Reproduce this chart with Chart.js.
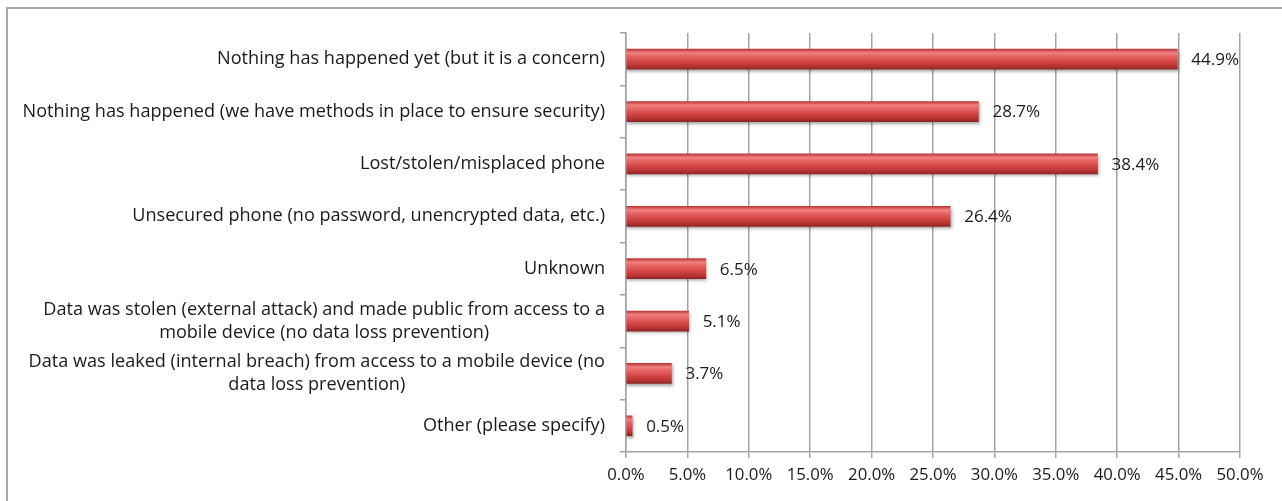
<!DOCTYPE html>
<html>
<head>
<meta charset="utf-8">
<script src="https://cdn.jsdelivr.net/npm/chart.js@4/dist/chart.umd.min.js"></script>
<style>
  html, body { margin: 0; padding: 0; background: #fff; }
  #wrap { position: relative; width: 1282px; height: 501px; }
  #frame {
    position: absolute; left: 6px; top: 7px; right: 0; bottom: 0;
    border-top: 2px solid #a9a9a9; border-left: 2px solid #a9a9a9;
    pointer-events: none;
  }
</style>
</head>
<body>
<div id="wrap">
  <canvas id="chart" width="1282" height="501"></canvas>
  <div id="frame"></div>
</div>
<script>
// ==============================
// DATA
// ==============================
const categories = [
  ["Nothing has happened yet (but it is a concern)"],
  ["Nothing has happened (we have methods in place to ensure security)"],
  ["Lost/stolen/misplaced phone"],
  ["Unsecured phone (no password, unencrypted data, etc.)"],
  ["Unknown"],
  ["Data was stolen (external attack) and made public from access to a", "mobile device (no data loss prevention)"],
  ["Data was leaked (internal breach) from access to a mobile device (no", "data loss prevention)"],
  ["Other (please specify)"]
];
const values = [44.9, 28.7, 38.4, 26.4, 6.5, 5.1, 3.7, 0.5];
const xTicksMax = 50;
const xTicksStep = 5;

const FONT = "'Open Sans'";
const GRID = "#a3a3a3";
const TEXT = "#1a1a1a";

// cylinder-like gradient across each bar + soft shadow
const barLook = {
  id: "barLook",
  beforeDatasetsDraw(chart) {
    const ctx = chart.ctx;
    chart.getDatasetMeta(0).data.forEach(bar => {
      const h = bar.height / 2;
      const g = ctx.createLinearGradient(0, bar.y - h, 0, bar.y + h);
      g.addColorStop(0, "#bd3838");
      g.addColorStop(0.18, "#f08080");
      g.addColorStop(0.35, "#e66464");
      g.addColorStop(0.6, "#d64747");
      g.addColorStop(0.85, "#b93333");
      g.addColorStop(1, "#8e2626");
      bar.options.backgroundColor = g;
    });
    ctx.save();
    ctx.shadowColor = "rgba(0,0,0,0.35)";
    ctx.shadowBlur = 3;
    ctx.shadowOffsetX = 1;
    ctx.shadowOffsetY = 2;
  },
  afterDatasetsDraw(chart) {
    chart.ctx.restore();
  }
};

// value labels at the bar ends
const valueLabels = {
  id: "valueLabels",
  afterDatasetsDraw(chart) {
    const ctx = chart.ctx;
    const meta = chart.getDatasetMeta(0);
    ctx.save();
    ctx.font = "17px " + FONT;
    ctx.fillStyle = TEXT;
    ctx.textAlign = "left";
    ctx.textBaseline = "middle";
    meta.data.forEach((bar, i) => {
      ctx.fillText(values[i].toFixed(1) + "%", bar.x + 14, bar.y + 1);
    });
    ctx.restore();
  }
};

// category labels: block right-aligned, wrapped lines centred in the block
const catLabels = {
  id: "catLabels",
  afterDraw(chart) {
    const ctx = chart.ctx;
    const y = chart.scales.y;
    const right = y.right - 21;
    const lh = 23;
    ctx.save();
    ctx.font = "18.1px " + FONT;
    ctx.fillStyle = TEXT;
    ctx.textBaseline = "middle";
    ctx.textAlign = "center";
    categories.forEach((lines, i) => {
      const c = y.getPixelForValue(i);
      const w = Math.max(...lines.map(l => ctx.measureText(l).width));
      const cx = right - w / 2;
      const top = c - (lines.length - 1) * lh / 2;
      lines.forEach((l, k) => ctx.fillText(l, cx, top + k * lh));
    });
    ctx.restore();
  }
};

new Chart(document.getElementById("chart"), {
  type: "bar",
  data: {
    labels: categories.map(l => l.join(" ")),
    datasets: [{
      data: values,
      // scriptable so every bar gets its own options object
      backgroundColor: () => "#d64747",
      borderWidth: 0,
      barThickness: 20
    }]
  },
  options: {
    indexAxis: "y",
    responsive: false,
    animation: false,
    layout: { padding: { top: 33, right: 42, bottom: 0, left: 0 } },
    plugins: { legend: { display: false }, tooltip: { enabled: false } },
    scales: {
      x: {
        min: 0,
        max: xTicksMax,
        afterFit(scale) { scale.height = 49; },
        grid: { color: GRID, lineWidth: 1.5, tickLength: 6 },
        border: { display: true, color: GRID, width: 1.5 },
        ticks: {
          stepSize: xTicksStep,
          padding: 7,
          color: TEXT,
          font: { family: "Open Sans", size: 16.8 },
          callback: v => v.toFixed(1) + "%"
        }
      },
      y: {
        afterFit(scale) { scale.width = 626; },
        grid: { drawOnChartArea: false, color: GRID, lineWidth: 1.5, tickLength: 6, offset: true },
        border: { display: true, color: GRID, width: 1.5 },
        ticks: { display: false }
      }
    }
  },
  plugins: [barLook, valueLabels, catLabels]
});
</script>
</body>
</html>
